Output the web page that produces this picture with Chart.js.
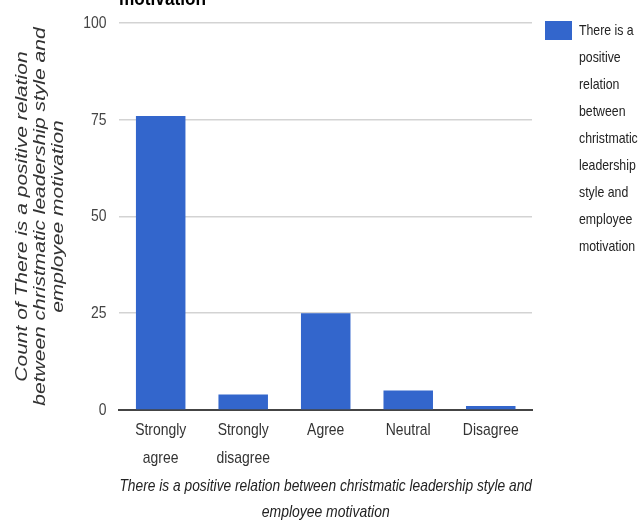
<!DOCTYPE html>
<html>
<head>
<meta charset="utf-8">
<script src="https://cdn.jsdelivr.net/npm/chart.js@4"></script>
<style>
  html, body { margin: 0; padding: 0; background: #fff; }
  #wrap { width: 644px; height: 521px; }
</style>
</head>
<body>
<div id="wrap"><canvas id="chart" width="644" height="521"></canvas></div>
<script>
// Data
const categories = [['Strongly', 'agree'], ['Strongly', 'disagree'], 'Agree', 'Neutral', 'Disagree'];
const counts = [76, 4, 25, 5, 1];
const seriesName = ['There is a', 'positive', 'relation', 'between', 'christmatic', 'leadership', 'style and', 'employee', 'motivation'];
const xTitle = ['There is a positive relation between christmatic leadership style and', 'employee motivation'];
const yTitle = ['Count of There is a positive relation', 'between christmatic leadership style and', 'employee motivation'];
const titleTail = 'motivation';

const BLUE = '#3366cc';
const SANS = "'Liberation Sans', Arial, sans-serif";
const SQUASH = 0.82; // the source picture is squeezed sideways, so all text is too

const canvas = document.getElementById('chart');
const ctx = canvas.getContext('2d');

// squeeze every text horizontally (in canvas space) around its anchor point
const rawFill = ctx.fillText.bind(ctx);
const rawMeasure = ctx.measureText.bind(ctx);
ctx.fillText = function (t, x, y, maxW) {
  const m = this.getTransform();
  const p = m.transformPoint(new DOMPoint(x, y));
  this.save();
  this.setTransform(new DOMMatrix().translate(p.x, p.y).scale(SQUASH, 1).translate(-p.x, -p.y).multiply(m));
  if (maxW === undefined) rawFill(t, x, y); else rawFill(t, x, y, maxW / SQUASH);
  this.restore();
};
ctx.measureText = function (t) {
  const m = rawMeasure(t);
  return {
    width: m.width * SQUASH,
    actualBoundingBoxLeft: m.actualBoundingBoxLeft * SQUASH,
    actualBoundingBoxRight: m.actualBoundingBoxRight * SQUASH,
    actualBoundingBoxAscent: m.actualBoundingBoxAscent,
    actualBoundingBoxDescent: m.actualBoundingBoxDescent
  };
};

// title is cut off at the top, only its last line shows
const titlePlugin = {
  id: 'cutTitle',
  afterDraw(chart) {
    const c = chart.ctx;
    c.save();
    c.font = 'bold 21px ' + SANS;
    c.fillStyle = '#000';
    c.textAlign = 'left';
    c.textBaseline = 'alphabetic';
    c.fillText(titleTail, 119, 5);
    c.restore();
  }
};

// wrapped legend on the right
const legendPlugin = {
  id: 'wrapLegend',
  afterDraw(chart) {
    const c = chart.ctx;
    c.save();
    c.fillStyle = BLUE;
    c.fillRect(545, 21, 27, 19);
    c.font = '15px ' + SANS;
    c.fillStyle = '#222';
    c.textAlign = 'left';
    c.textBaseline = 'middle';
    seriesName.forEach((t, i) => c.fillText(t, 579, 31 + i * 27));
    c.restore();
  }
};

new Chart(ctx, {
  type: 'bar',
  data: {
    labels: categories,
    datasets: [{
      label: seriesName.join(' '),
      data: counts,
      backgroundColor: BLUE,
      barPercentage: 0.6,
      categoryPercentage: 1
    }]
  },
  options: {
    responsive: false,
    animation: false,
    layout: { padding: { top: 17, right: 112, left: 0, bottom: 0 } },
    plugins: { legend: { display: false }, tooltip: { enabled: false } },
    scales: {
      x: {
        grid: { display: false, drawTicks: false },
        border: { display: true, color: '#444', width: 2 },
        ticks: { color: '#333', font: { family: SANS, size: 17, lineHeight: 1.65 }, maxRotation: 0, autoSkip: false, padding: 6 },
        title: {
          display: true,
          text: xTitle,
          color: '#222',
          font: { family: SANS, size: 17, style: 'italic', lineHeight: 1.53 },
          padding: { top: -5, bottom: -4 }
        }
      },
      y: {
        min: 0,
        max: 100,
        ticks: { stepSize: 25, color: '#444', font: { family: SANS, size: 17 }, padding: 13 },
        grid: { color: '#d3d3d3', lineWidth: 1.5, drawTicks: false },
        border: { display: false },
        title: {
          display: true,
          text: yTitle,
          color: '#333',
          font: { family: SANS, size: 21, style: 'italic', lineHeight: 0.86 },
          padding: { top: 13, bottom: 3 }
        }
      }
    }
  },
  plugins: [titlePlugin, legendPlugin]
});
</script>
</body>
</html>
